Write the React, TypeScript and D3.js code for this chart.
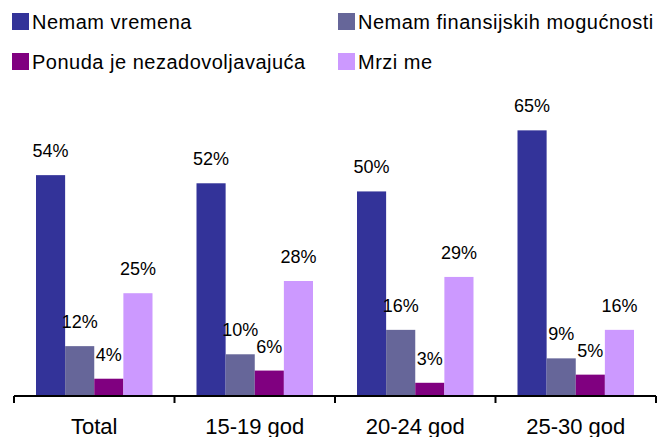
import React from 'react';
import * as d3 from 'd3';

const categories = ['Total', '15-19 god', '20-24 god', '25-30 god'];
const seriesNames = ['Nemam vremena', 'Nemam finansijskih mogućnosti', 'Ponuda je nezadovoljavajuća', 'Mrzi me'];
const vremena = [54, 52, 50, 65];
const finansije = [12, 10, 16, 9];
const ponuda = [4, 6, 3, 5];
const mrzi = [25, 28, 29, 16];
const colors = ['#333399', '#666699', '#800080', '#CC99FF'];

const width = 672;
const height = 437;
const font = '"Liberation Sans", Arial, sans-serif';

const App = () => {
  const series = [vremena, finansije, ponuda, mrzi];

  const x = d3.scaleBand().domain(categories).range([14, 656]).paddingInner(0).paddingOuter(0);
  const inner = d3.scaleBand().domain(seriesNames).range([22, x.bandwidth() - 22]);
  const y = d3.scaleLinear().domain([0, 70]).range([395, 110]);

  const legendPos = [
    { x: 12, y: 13 },
    { x: 338, y: 13 },
    { x: 12, y: 53 },
    { x: 338, y: 53 },
  ];

  const ticks = [...categories.map(c => x(c)), x.range()[1]];

  return (
    <svg width={width} height={height} style={{ position: 'absolute', left: 0, top: 0 }} fontFamily={font}>
      <rect width={width} height={height} fill="#fff" />
      {seriesNames.map((name, i) => (
        <g key={name}>
          <rect x={legendPos[i].x} y={legendPos[i].y} width={17} height={17} fill={colors[i]} />
          <text x={legendPos[i].x + 20} y={legendPos[i].y + 15.5} fontSize={20} letterSpacing={0.5} fill="#000">{name}</text>
        </g>
      ))}
      {categories.map((cat, ci) => (
        <g key={cat} transform={`translate(${x(cat)},0)`}>
          {series.map((vals, si) => {
            const bx = inner(seriesNames[si]);
            const v = vals[ci];
            return (
              <g key={si}>
                <rect x={bx} y={y(v)} width={inner.bandwidth()} height={y(0) - y(v)} fill={colors[si]} />
                <text x={bx + inner.bandwidth() / 2} y={y(v) - 18} textAnchor="middle" fontSize={18} fill="#000">{v}%</text>
              </g>
            );
          })}
          <text x={x.bandwidth() / 2} y={434} textAnchor="middle" fontSize={22} fill="#000">{cat}</text>
        </g>
      ))}
      <line x1={14} x2={656} y1={396} y2={396} stroke="#000" strokeWidth={2} />
      {ticks.map((t, i) => (
        <line key={i} x1={t} x2={t} y1={396} y2={403} stroke="#000" strokeWidth={2} />
      ))}
    </svg>
  );
};

export default App;
